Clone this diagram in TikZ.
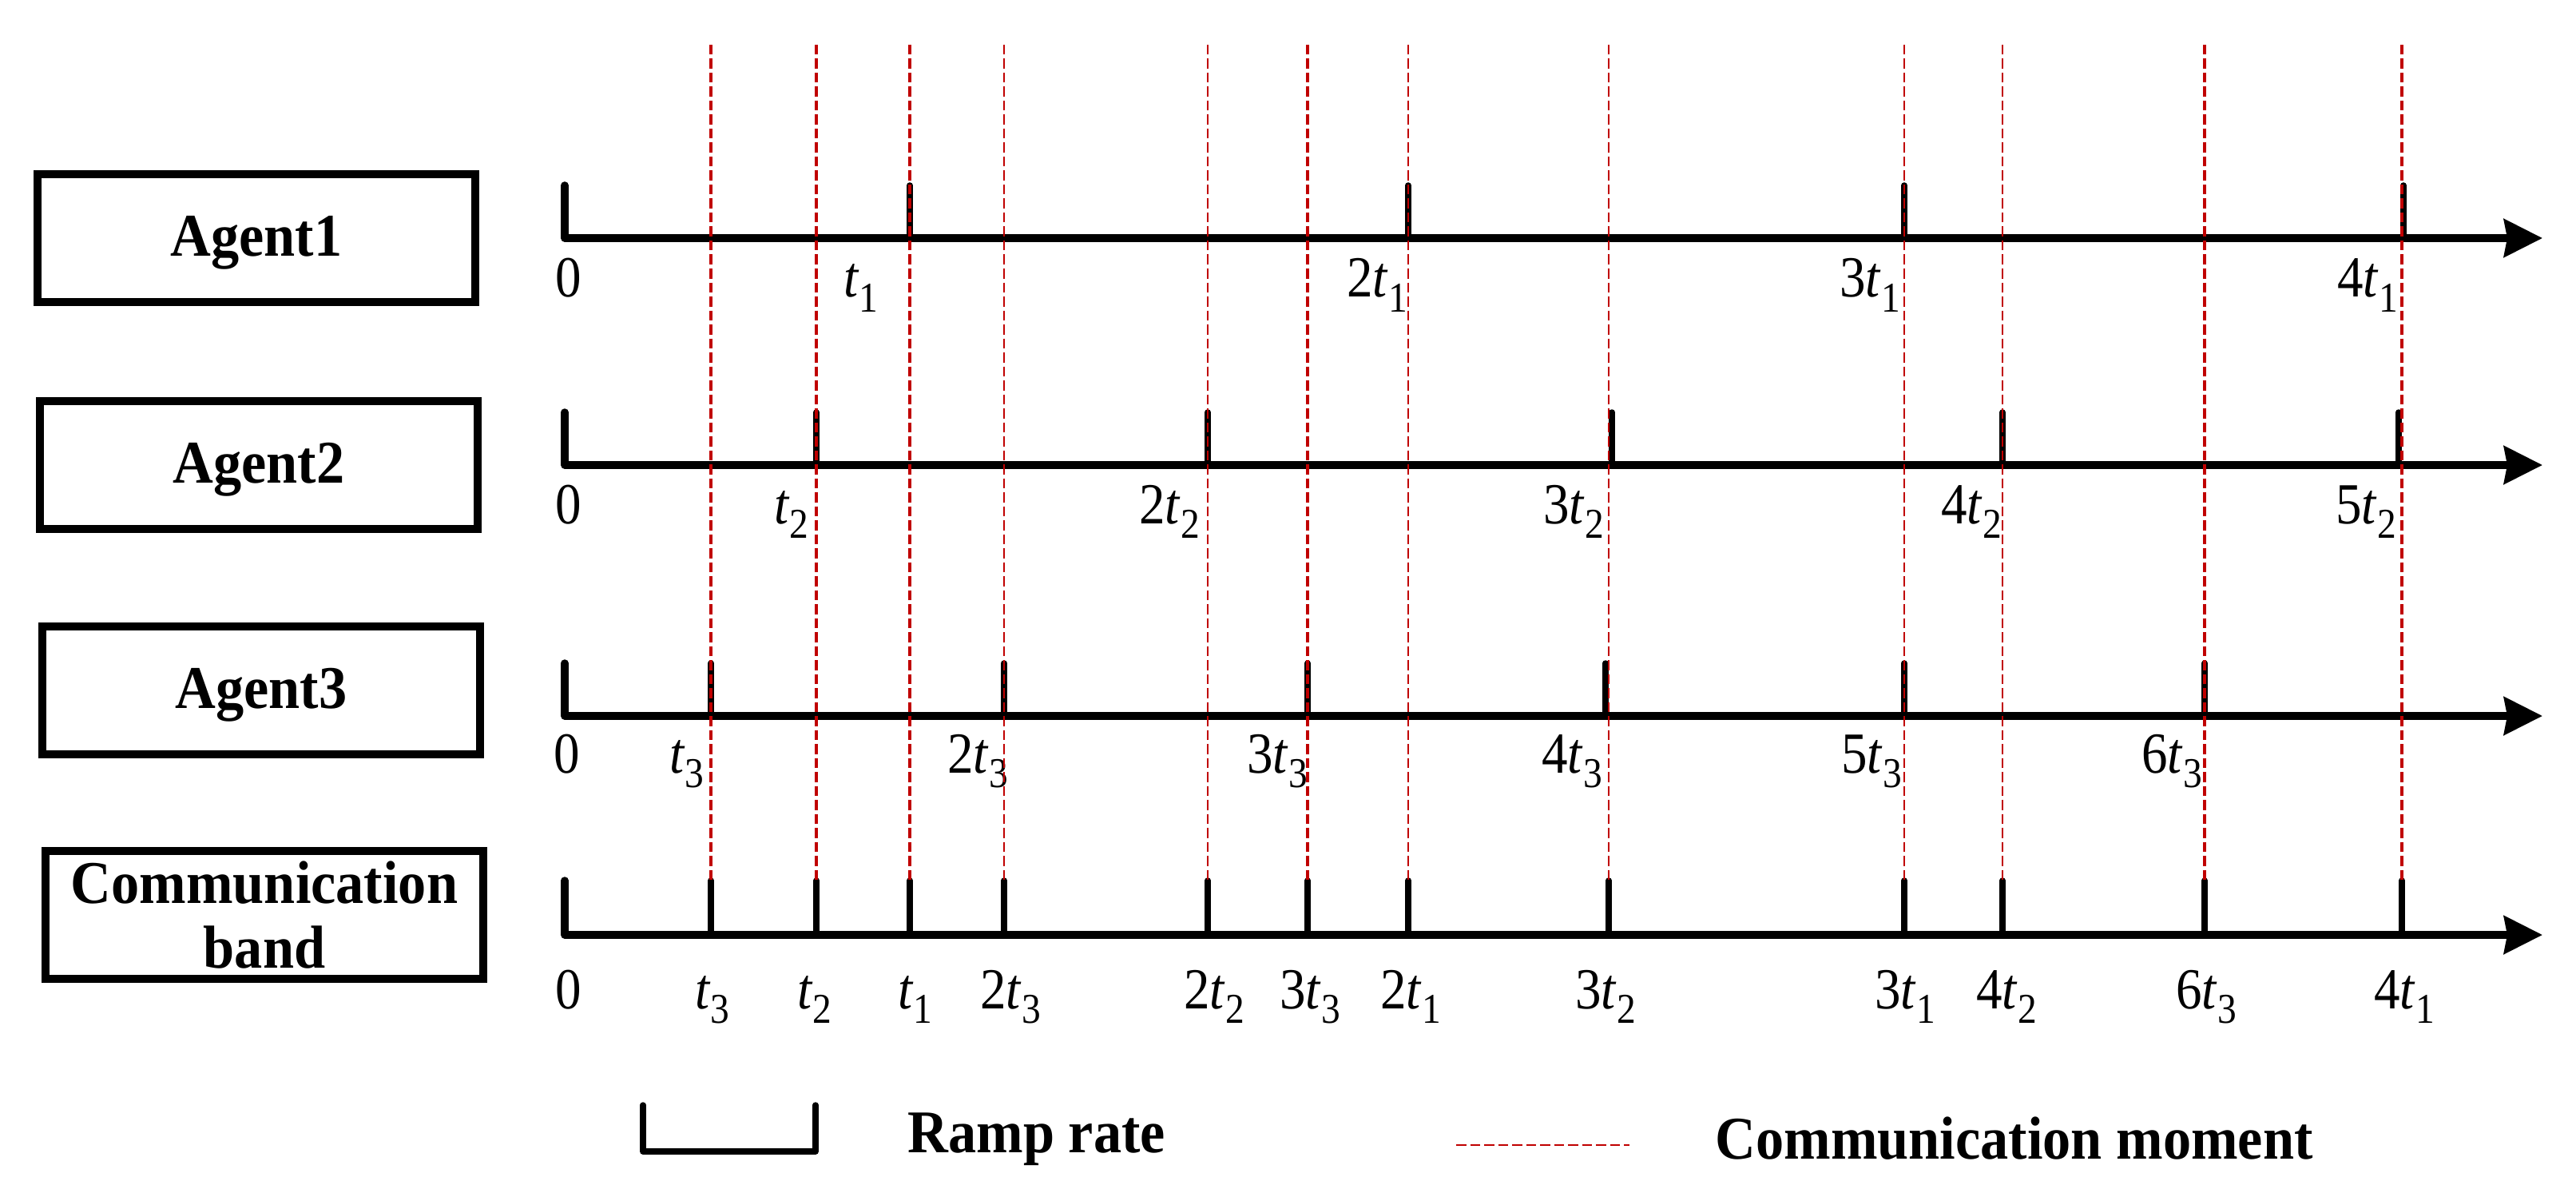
\documentclass[tikz,border=0pt]{standalone}
\usepackage{fontspec}
\setmainfont{Liberation Serif}
\usetikzlibrary{arrows.meta}
\definecolor{commred}{HTML}{C00000}
\newcommand\tlab[2]{\scalebox{1}[1.12]{#1\textit{t}\raisebox{-0.25em}{\fontsize{13.5}{13.5}\selectfont #2}}}
\newcommand\zlab{\scalebox{1}[1.12]{0}}
\newcommand\bt[1]{\scalebox{1}[1.08]{#1}}
\begin{document}
\begin{tikzpicture}[x=1cm,y=1cm,
  agentbox/.style={draw, line width=0.1cm, minimum width=5.48cm, minimum height=1.60cm,
    inner sep=0pt, font=\fontsize{20}{23}\selectfont\bfseries, align=center},
  axisline/.style={line width=0.095cm, line cap=round, line join=round,
    -{Stealth[length=0.48cm,width=0.47cm,inset=0.04cm]}},
  tickline/.style={line width=0.075cm, line cap=round, line join=round},
  commline/.style={draw=commred, line width=0.036cm, dash pattern=on 0.125cm off 0.05cm},
  commthin/.style={commline, line width=0.027cm},
  lab/.style={font=\fontsize{18.5}{18.5}\selectfont, anchor=base, inner sep=0pt},
  legtext/.style={font=\fontsize{20}{23}\selectfont\bfseries, anchor=base west, inner sep=0pt}]

\useasboundingbox (0,0) rectangle (32.25,-14.93);

% boxes
\node[agentbox, text depth=0.05cm] (b1) at (3.21,-2.98) {\bt{Agent1}};
\node[agentbox, text depth=0.05cm] (b2) at (3.24,-5.82) {\bt{Agent2}};
\node[agentbox, text depth=0.05cm] (b3) at (3.27,-8.64) {\bt{Agent3}};
\node[agentbox] (b4) at (3.31,-11.45) {\bt{Communication}\\\bt{band}};

% axes
\coordinate (s1) at (7.07,-2.98);  \coordinate (e1) at (31.83,-2.98);
\coordinate (s2) at (7.07,-5.82);  \coordinate (e2) at (31.83,-5.82);
\coordinate (s3) at (7.07,-8.96);  \coordinate (e3) at (31.83,-8.96);
\coordinate (s4) at (7.07,-11.70); \coordinate (e4) at (31.83,-11.70);

\draw[axisline] ([yshift=0.66cm]s1) -- (s1) -- (e1);
\draw[axisline] ([yshift=0.66cm]s2) -- (s2) -- (e2);
\draw[axisline] ([yshift=0.66cm]s3) -- (s3) -- (e3);
\draw[axisline] ([yshift=0.68cm]s4) -- (s4) -- (e4);

% ticks
\foreach \x in {11.39,17.63,23.84,30.09}
  \draw[tickline] (\x,-2.98) -- (\x,-2.32);
\foreach \x in {10.22,15.12,20.18,25.07,30.03}
  \draw[tickline] (\x,-5.82) -- (\x,-5.16);
\foreach \x in {8.90,12.57,16.37,20.10,23.84,27.60}
  \draw[tickline] (\x,-8.96) -- (\x,-8.30);
\foreach \x in {8.90,10.22,11.39,12.57,15.12,16.37,17.63,20.14,23.84,25.07,27.60,30.07}
  \draw[tickline] (\x,-11.70) -- (\x,-11.02);

% labels Agent1
\node[lab] (l10) at (7.12,-3.72) {\zlab};
\node[lab] (l11) at (10.78,-3.72) {\tlab{}{1}};
\node[lab] (l12) at (17.24,-3.72) {\tlab{2}{1}};
\node[lab] (l13) at (23.41,-3.72) {\tlab{3}{1}};
\node[lab] (l14) at (29.64,-3.72) {\tlab{4}{1}};
% labels Agent2
\node[lab] (l20) at (7.12,-6.55) {\zlab};
\node[lab] (l21) at (9.91,-6.55) {\tlab{}{2}};
\node[lab] (l22) at (14.64,-6.55) {\tlab{2}{2}};
\node[lab] (l23) at (19.70,-6.55) {\tlab{3}{2}};
\node[lab] (l24) at (24.68,-6.55) {\tlab{4}{2}};
\node[lab] (l25) at (29.62,-6.55) {\tlab{5}{2}};
% labels Agent3
\node[lab] (l30) at (7.10,-9.67) {\zlab};
\node[lab] (l31) at (8.60,-9.67) {\tlab{}{3}};
\node[lab] (l32) at (12.24,-9.67) {\tlab{2}{3}};
\node[lab] (l33) at (15.99,-9.67) {\tlab{3}{3}};
\node[lab] (l34) at (19.68,-9.67) {\tlab{4}{3}};
\node[lab] (l35) at (23.43,-9.67) {\tlab{5}{3}};
\node[lab] (l36) at (27.19,-9.67) {\tlab{6}{3}};
% labels communication band
\node[lab] (l40) at (7.12,-12.62) {\zlab};
\node[lab] (l41) at (8.92,-12.62) {\tlab{}{3}};
\node[lab] (l42) at (10.20,-12.62) {\tlab{}{2}};
\node[lab] (l43) at (11.46,-12.62) {\tlab{}{1}};
\node[lab] (l44) at (12.65,-12.62) {\tlab{2}{3}};
\node[lab] (l45) at (15.20,-12.62) {\tlab{2}{2}};
\node[lab] (l46) at (16.40,-12.62) {\tlab{3}{3}};
\node[lab] (l47) at (17.66,-12.62) {\tlab{2}{1}};
\node[lab] (l48) at (20.10,-12.62) {\tlab{3}{2}};
\node[lab] (l49) at (23.85,-12.62) {\tlab{3}{1}};
\node[lab] (l4a) at (25.12,-12.62) {\tlab{4}{2}};
\node[lab] (l4b) at (27.62,-12.62) {\tlab{6}{3}};
\node[lab] (l4c) at (30.10,-12.62) {\tlab{4}{1}};

% communication moments (red dashed)
\foreach \x in {8.90,10.22,11.39,16.37,27.60,30.07}
  \draw[commline] (\x,-0.56) -- (\x,-11.02);
\foreach \x in {12.57,15.12,17.63,20.14,23.84,25.07}
  \draw[commthin] (\x,-0.56) -- (\x,-11.02);

% legend
\coordinate (r1) at (8.05,-13.83);
\coordinate (r2) at (10.21,-13.83);
\draw[tickline] (r1) -- (8.05,-14.41) -- (10.21,-14.41) -- (r2);
\node[legtext] (lr) at (11.36,-14.42) {\bt{Ramp rate}};
\coordinate (c1) at (18.23,-14.33);
\coordinate (c2) at (20.40,-14.33);
\draw[commthin] (c1) -- (c2);
\node[legtext] (lc) at (21.47,-14.50) {\bt{Communication moment}};
\end{tikzpicture}
\end{document}
